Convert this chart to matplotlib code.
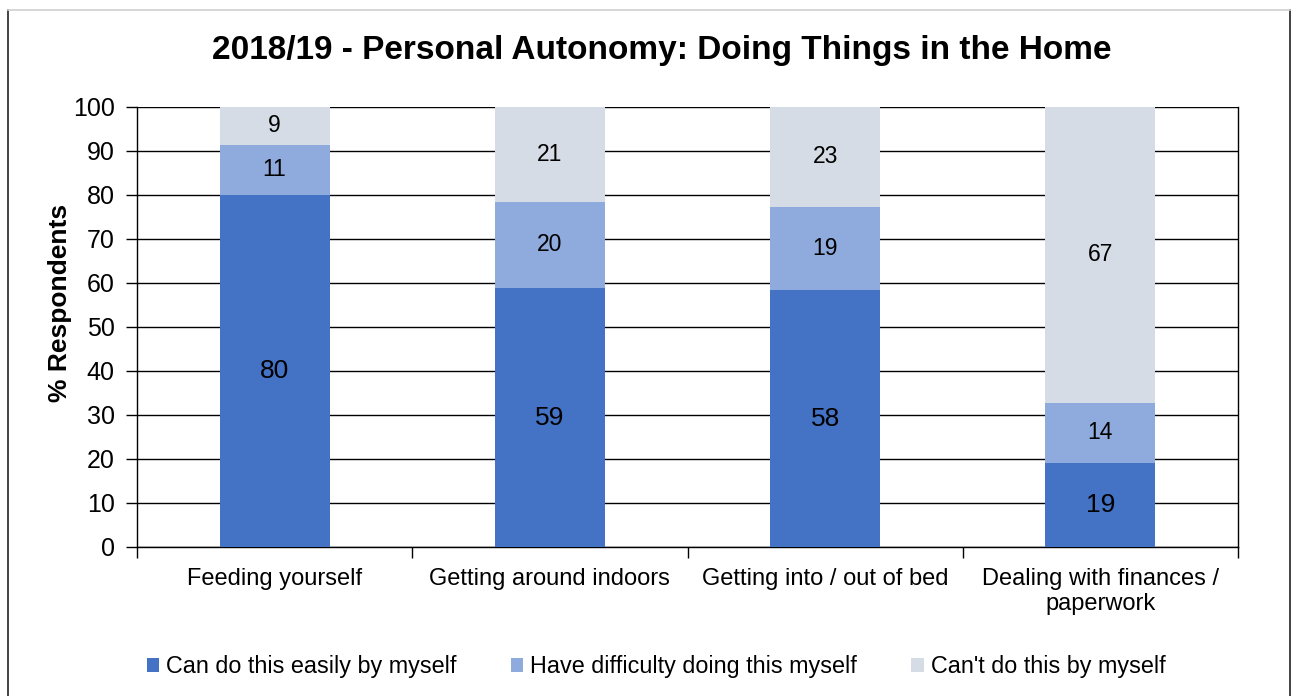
import matplotlib
matplotlib.use("Agg")
import matplotlib.pyplot as plt
from matplotlib.patches import Patch
from matplotlib.lines import Line2D
import numpy as np

plt.rcParams['font.family'] = ['Liberation Sans', 'DejaVu Sans']

categories = ["Feeding yourself", "Getting around indoors", "Getting into / out of bed",
              "Dealing with finances /\npaperwork"]
series_names = ["Can do this easily by myself", "Have difficulty doing this myself",
                "Can't do this by myself"]
easily = [80.0, 58.8, 58.4, 19.2]
difficulty = [11.4, 19.7, 18.9, 13.6]
cannot = [8.6, 21.4, 22.7, 67.2]
yticks = list(range(0, 101, 10))
colors = ["#4472C4", "#8FAADC", "#D6DCE5"]

W, H = 1298, 696
fig = plt.figure(figsize=(W / 100, H / 100), dpi=100)
ax = fig.add_axes([137 / W, (H - 547) / H, (1238 - 137) / W, 440 / H])

x = np.arange(len(categories))
series = [easily, difficulty, cannot]
bottom = np.zeros(len(categories))
for i, (vals, col) in enumerate(zip(series, colors)):
    vals = np.array(vals)
    ax.bar(x, vals, bottom=bottom, width=0.4, color=col, zorder=3)
    for xi, b, v in zip(x, bottom, vals):
        ax.text(xi, b + v / 2, f"{v:.0f}", ha='center', va='center',
                fontsize=19 if i == 0 else 16.5, color='black', zorder=4)
    bottom += vals

ax.set_xlim(-0.5, len(categories) - 0.5)
ax.set_ylim(0, 100)
ax.set_yticks(yticks)
ax.yaxis.grid(True, color='#000000', linewidth=1.0, zorder=0)
ax.set_axisbelow(True)
ax.tick_params(axis='y', labelsize=18, length=8, width=1, color='black', pad=8)
ax.set_xticks(x)
ax.set_xticklabels(categories, fontsize=17, linespacing=1.2)
ax.tick_params(axis='x', which='major', length=0, pad=15)
ax.set_xticks(np.arange(-0.5, len(categories), 1.0), minor=True)
ax.tick_params(axis='x', which='minor', length=8, width=1, color='black')
for s in ['left', 'bottom', 'right']:
    ax.spines[s].set_color('black')
    ax.spines[s].set_linewidth(1.0)
ax.spines['top'].set_visible(False)

ax.set_ylabel("% Respondents", fontsize=19, fontweight='bold')
ax.yaxis.set_label_coords((72 - 137) / (1238 - 137), (547 - 303) / 440)
fig.text(662 / W, 1 - 50 / H, "2018/19 - Personal Autonomy: Doing Things in the Home",
         ha='center', va='center', fontsize=24, fontweight='bold')

handles = [Patch(facecolor=c, edgecolor='none') for c in colors]
fig.legend(handles, series_names, loc='center', bbox_to_anchor=(656 / W, 1 - 667 / H),
           ncol=3, frameon=False, fontsize=16.8, handlelength=0.55, handleheight=0.55,
           handletextpad=0.3, columnspacing=2.3)

# outer frame
fig.add_artist(Line2D([7.5 / W, 7.5 / W], [0, 1 - 10 / H], transform=fig.transFigure, color='#222222', lw=1.2))
fig.add_artist(Line2D([1290 / W, 1290 / W], [0, 1 - 10 / H], transform=fig.transFigure, color='#222222', lw=1.2))
fig.add_artist(Line2D([7.5 / W, 1290 / W], [1 - 10 / H, 1 - 10 / H], transform=fig.transFigure, color='#d0d0d0', lw=1.2))

fig.savefig("out.png", dpi=100)
